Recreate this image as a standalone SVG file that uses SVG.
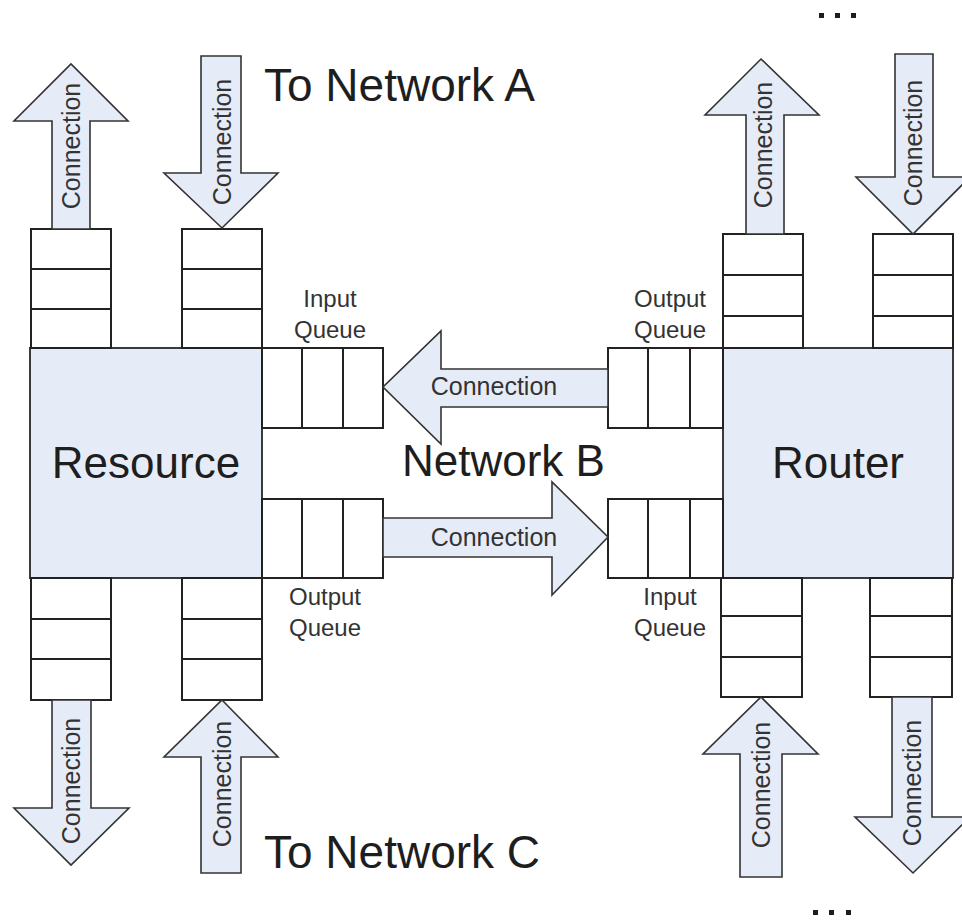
<svg xmlns="http://www.w3.org/2000/svg" width="962" height="921" viewBox="0 0 962 921">
  <style>
    .box { fill: #e6ecf7; stroke: #3a3a3a; stroke-width: 2; }
    .q { fill: #ffffff; stroke: #222; stroke-width: 2; }
    .qline { stroke: #222; stroke-width: 2; }
    .arrow { fill: #e6ecf7; stroke: #333; stroke-width: 1.6; stroke-linejoin: miter; }
    text { font-family: "Liberation Sans", Arial, sans-serif; fill: #1e1e1e; }
    .big { font-size: 44px; }
    .net { font-size: 46px; }
    .lbl { font-size: 24px; text-anchor: middle; fill: #333; }
    .conn { font-size: 25px; text-anchor: middle; fill: #333; }
    .dot { fill: #1e1e1e; }
  </style>

  <!-- Resource node with its queues -->
  <g id="resource">
    <rect class="box" x="30" y="348" width="232" height="230"/>
    <text class="big" x="146" y="478" text-anchor="middle">Resource</text>
  </g>
  <g id="resource-queue-top-out">
    <rect class="q" x="31" y="229" width="80" height="119"/>
    <line class="qline" x1="31" y1="269" x2="111" y2="269"/>
    <line class="qline" x1="31" y1="309" x2="111" y2="309"/>
  </g>
  <g id="resource-queue-top-in">
    <rect class="q" x="182" y="229" width="80" height="119"/>
    <line class="qline" x1="182" y1="269" x2="262" y2="269"/>
    <line class="qline" x1="182" y1="309" x2="262" y2="309"/>
  </g>
  <g id="resource-queue-bottom-out">
    <rect class="q" x="31" y="578" width="80" height="122"/>
    <line class="qline" x1="31" y1="619" x2="111" y2="619"/>
    <line class="qline" x1="31" y1="659" x2="111" y2="659"/>
  </g>
  <g id="resource-queue-bottom-in">
    <rect class="q" x="182" y="578" width="80" height="122"/>
    <line class="qline" x1="182" y1="619" x2="262" y2="619"/>
    <line class="qline" x1="182" y1="659" x2="262" y2="659"/>
  </g>
  <g id="resource-input-queue">
    <rect class="q" x="262" y="348" width="121" height="80"/>
    <line class="qline" x1="302" y1="348" x2="302" y2="428"/>
    <line class="qline" x1="343" y1="348" x2="343" y2="428"/>
    <text class="lbl" x="330" y="307">Input</text>
    <text class="lbl" x="330" y="338">Queue</text>
  </g>
  <g id="resource-output-queue">
    <rect class="q" x="262" y="499" width="121" height="79"/>
    <line class="qline" x1="302" y1="499" x2="302" y2="578"/>
    <line class="qline" x1="343" y1="499" x2="343" y2="578"/>
    <text class="lbl" x="325" y="605">Output</text>
    <text class="lbl" x="325" y="636">Queue</text>
  </g>

  <!-- Router node with its queues -->
  <g id="router">
    <rect class="box" x="723" y="348" width="230" height="230"/>
    <text class="big" x="838" y="478" text-anchor="middle">Router</text>
  </g>
  <g id="router-queue-top-out">
    <rect class="q" x="723" y="234" width="80" height="114"/>
    <line class="qline" x1="723" y1="275" x2="803" y2="275"/>
    <line class="qline" x1="723" y1="316" x2="803" y2="316"/>
  </g>
  <g id="router-queue-top-in">
    <rect class="q" x="873" y="234" width="80" height="114"/>
    <line class="qline" x1="873" y1="275" x2="953" y2="275"/>
    <line class="qline" x1="873" y1="316" x2="953" y2="316"/>
  </g>
  <g id="router-queue-bottom-in">
    <rect class="q" x="721" y="578" width="81" height="119"/>
    <line class="qline" x1="721" y1="616" x2="802" y2="616"/>
    <line class="qline" x1="721" y1="657" x2="802" y2="657"/>
  </g>
  <g id="router-queue-bottom-out">
    <rect class="q" x="870" y="578" width="82" height="119"/>
    <line class="qline" x1="870" y1="616" x2="952" y2="616"/>
    <line class="qline" x1="870" y1="657" x2="952" y2="657"/>
  </g>
  <g id="router-output-queue">
    <rect class="q" x="608" y="348" width="115" height="80"/>
    <line class="qline" x1="648" y1="348" x2="648" y2="428"/>
    <line class="qline" x1="690" y1="348" x2="690" y2="428"/>
    <text class="lbl" x="670" y="307">Output</text>
    <text class="lbl" x="670" y="338">Queue</text>
  </g>
  <g id="router-input-queue">
    <rect class="q" x="608" y="499" width="115" height="79"/>
    <line class="qline" x1="648" y1="499" x2="648" y2="578"/>
    <line class="qline" x1="690" y1="499" x2="690" y2="578"/>
    <text class="lbl" x="670" y="605">Input</text>
    <text class="lbl" x="670" y="636">Queue</text>
  </g>

  <!-- Connection arrows -->
  <g id="connectors">
    <!-- Network B: router to resource -->
    <path class="arrow" d="M608,369 L441,369 L441,331 L383,387 L441,444 L441,407 L608,407 Z"/>
    <text class="conn" x="494" y="395">Connection</text>
    <!-- Network B: resource to router -->
    <path class="arrow" d="M383,518 L552,518 L552,482 L608,537 L552,595 L552,557 L383,557 Z"/>
    <text class="conn" x="494" y="546">Connection</text>

    <!-- Resource, top -->
    <path class="arrow" d="M52,229 L52,121 L14,121 L71,64 L128,121 L90,121 L90,229 Z"/>
    <text class="conn" transform="translate(71,146) rotate(-90)" dy="9">Connection</text>
    <path class="arrow" d="M201,56 L241,56 L241,173 L278,173 L222,228 L164,173 L201,173 Z"/>
    <text class="conn" transform="translate(222,142) rotate(-90)" dy="9">Connection</text>

    <!-- Resource, bottom -->
    <path class="arrow" d="M52,700 L91,700 L91,808 L129,808 L71,865 L14,808 L52,808 Z"/>
    <text class="conn" transform="translate(71,781) rotate(-90)" dy="9">Connection</text>
    <path class="arrow" d="M222,700 L278,757 L241,757 L241,873 L201,873 L201,757 L164,757 Z"/>
    <text class="conn" transform="translate(222,784) rotate(-90)" dy="9">Connection</text>

    <!-- Router, top -->
    <path class="arrow" d="M746,234 L746,115 L705,115 L761,59 L819,115 L784,115 L784,234 Z"/>
    <text class="conn" transform="translate(763,145) rotate(-90)" dy="9">Connection</text>
    <path class="arrow" d="M895,54 L933,54 L933,177 L970,177 L913,234 L856,177 L895,177 Z"/>
    <text class="conn" transform="translate(913,143) rotate(-90)" dy="9">Connection</text>

    <!-- Router, bottom -->
    <path class="arrow" d="M761,697 L818,754 L782,754 L782,877 L740,877 L740,754 L703,754 Z"/>
    <text class="conn" transform="translate(761,785) rotate(-90)" dy="9">Connection</text>
    <path class="arrow" d="M892,697 L932,697 L932,817 L970,817 L913,873 L855,817 L892,817 Z"/>
    <text class="conn" transform="translate(912,783) rotate(-90)" dy="9">Connection</text>
  </g>

  <!-- Network labels -->
  <text class="net" x="264" y="101">To Network A</text>
  <text class="big" x="402" y="476">Network B</text>
  <text class="net" x="264" y="868">To Network C</text>

  <!-- Continuation marks -->
  <g id="more-top">
    <rect class="dot" x="819" y="13" width="5" height="5"/>
    <rect class="dot" x="835" y="13" width="5" height="5"/>
    <rect class="dot" x="851" y="13" width="5" height="5"/>
  </g>
  <g id="more-bottom">
    <rect class="dot" x="813" y="910" width="5" height="5"/>
    <rect class="dot" x="829" y="910" width="5" height="5"/>
    <rect class="dot" x="846" y="910" width="5" height="5"/>
  </g>
</svg>
